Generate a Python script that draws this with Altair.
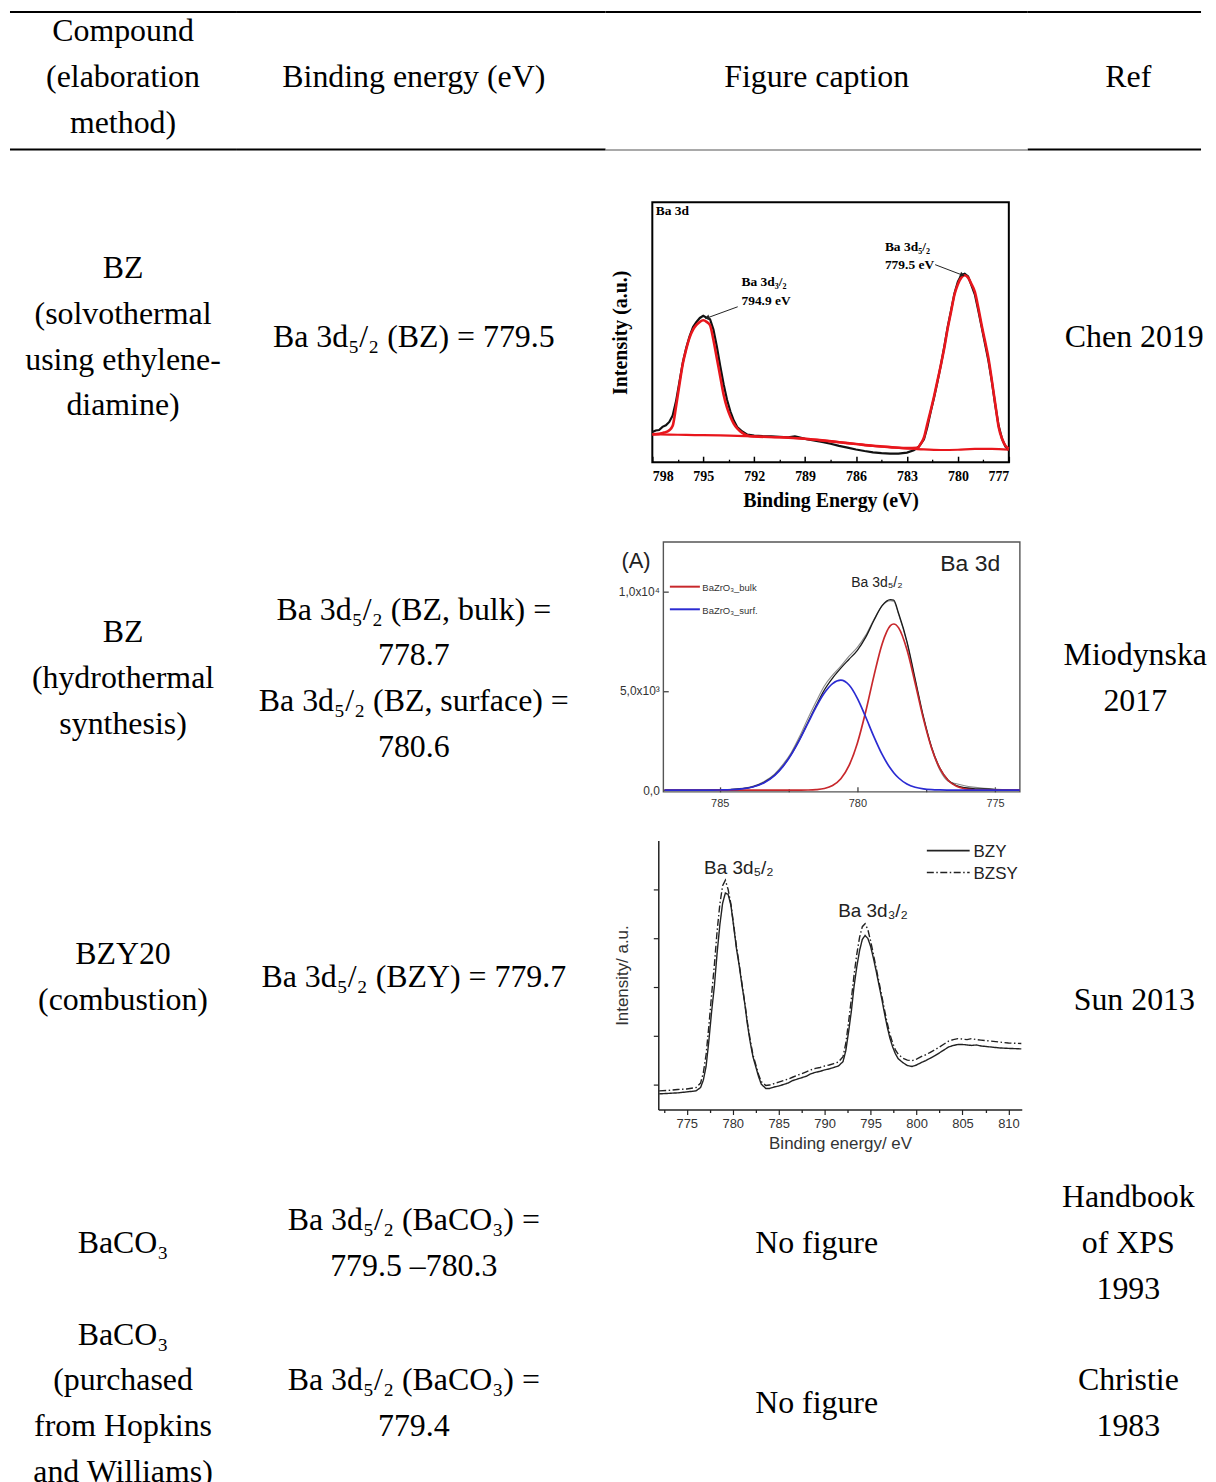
import altair as alt
import pandas as pd

SERIF = "Liberation Serif"
SANS = "Liberation Sans"
LINE_H = 46

# ---------------- table contents ----------------
header_cells = [["Compound", "(elaboration", "method)"], ["Binding energy (eV)"], ["Figure caption"], ["Ref"]]
compound_cells = [
    ["BZ", "(solvothermal", "using ethylene-", "diamine)"],
    ["BZ", "(hydrothermal", "synthesis)"],
    ["BZY20", "(combustion)"],
    ["BaCO₃"],
    ["BaCO₃", "(purchased", "from Hopkins", "and Williams)"],
]
energy_cells = [
    ["Ba 3d₅/₂ (BZ) = 779.5"],
    ["Ba 3d₅/₂ (BZ, bulk) =", "778.7", "Ba 3d₅/₂ (BZ, surface) =", "780.6"],
    ["Ba 3d₅/₂ (BZY) = 779.7"],
    ["Ba 3d₅/₂ (BaCO₃) =", "779.5 –780.3"],
    ["Ba 3d₅/₂ (BaCO₃) =", "779.4"],
]
caption_cells = [None, None, None, ["No figure"], ["No figure"]]
ref_cells = [["Chen 2019"], ["Miodynska", "2017"], ["Sun 2013"], ["Handbook", "of XPS", "1993"], ["Christie", "1983"]]

# ---------------- Chen 2019 panel ----------------
chen_xticks = [798, 795, 792, 789, 786, 783, 780, 777]
chen_xminor = [796.5, 793.5, 790.5, 787.5, 784.5, 781.5, 778.5]
chen_fit_energy = [798.0, 797.6, 797.3, 797.0, 796.8, 796.6, 796.4, 796.2, 796.0, 795.8,
                   795.6, 795.4, 795.2, 795.0, 794.8, 794.6, 794.4, 794.2, 794.0, 793.8,
                   793.6, 793.4, 793.2, 793.0, 792.7, 792.3, 792.0, 790.5, 789.0, 788.0,
                   787.0, 786.0, 785.0, 784.0, 783.0, 782.4, 782.2, 782.0, 781.8, 781.6,
                   781.4, 781.2, 781.0, 780.8, 780.6, 780.4, 780.2, 780.0, 779.8, 779.6,
                   779.4, 779.2, 779.0, 778.8, 778.6, 778.4, 778.2, 778.0, 777.8, 777.6,
                   777.4, 777.2, 777.0]
chen_fit_intensity = [10.7, 10.9, 11.4, 12.3, 14.0, 21.5, 30.0, 38.0, 43.5, 48.0,
                      51.0, 52.8, 54.0, 54.6, 54.0, 52.7, 47.0, 40.0, 33.0, 26.0,
                      21.0, 17.5, 14.8, 13.0, 11.3, 10.1, 9.9, 9.6, 9.0, 8.4,
                      7.7, 7.0, 6.3, 5.8, 5.4, 5.5, 7.0, 9.5, 14.8, 20.0,
                      25.5, 31.5, 37.5, 44.0, 51.5, 58.0, 64.5, 68.5, 71.0, 71.9,
                      71.0, 68.5, 65.5, 59.5, 52.7, 46.5, 40.0, 31.5, 22.5, 13.5,
                      9.0, 6.3, 5.2]
chen_bg_energy = [798, 797, 796, 795, 794, 793, 792, 791, 790, 789, 788,
                  787, 786, 785, 784, 783, 782, 781, 780, 779, 778, 777]
chen_bg_intensity = [10.7, 10.6, 10.5, 10.4, 10.3, 10.1, 9.9, 9.7, 9.5, 9.0, 8.4,
                     7.7, 7.0, 6.3, 5.8, 5.3, 4.9, 4.7, 4.8, 5.1, 5.1, 4.8]
chen_raw_energy = [798.0, 797.8, 797.6, 797.4, 797.2, 797.0, 796.8, 796.6, 796.4, 796.2,
                   796.0, 795.8, 795.6, 795.4, 795.2, 795.0, 794.8, 794.6, 794.4, 794.2,
                   794.0, 793.8, 793.6, 793.4, 793.2, 793.0, 792.7, 792.4, 792.0, 791.5,
                   791.0, 790.5, 790.0, 789.6, 789.3, 789.0, 788.5, 788.0, 787.5, 787.0,
                   786.5, 786.0, 785.5, 785.0, 784.5, 784.0, 783.5, 783.0, 782.6, 782.3,
                   782.0, 781.8, 781.6, 781.4, 781.2, 781.0, 780.8, 780.6, 780.4, 780.2,
                   780.0, 779.8, 779.6, 779.4, 779.2, 779.0, 778.8, 778.6, 778.4, 778.2,
                   778.0, 777.8, 777.6, 777.4, 777.2, 777.0]
chen_raw_intensity = [11.6, 12.2, 12.4, 13.6, 14.2, 15.5, 18.0, 23.5, 31.0, 38.5,
                      44.0, 48.5, 52.0, 54.0, 55.5, 56.3, 55.6, 55.0, 51.0, 44.5,
                      37.0, 30.0, 24.0, 19.5, 16.0, 13.5, 11.8, 10.6, 10.2, 10.0,
                      9.9, 9.8, 9.6, 9.9, 9.5, 9.0, 8.4, 7.8, 7.1, 6.3,
                      5.6, 4.9, 4.3, 3.8, 3.5, 3.3, 3.3, 3.7, 4.6, 6.0,
                      8.8, 13.5, 19.5, 25.0, 31.0, 37.5, 44.5, 52.0, 58.5, 65.0,
                      69.5, 72.0, 72.5, 71.5, 68.0, 64.5, 58.5, 52.0, 45.5, 39.0,
                      31.0, 22.0, 14.0, 9.0, 6.0, 4.6]
chen_note_text = ["Ba 3d", "Ba 3d₃/₂", "794.9 eV", "Ba 3d₅/₂", "779.5 eV"]
chen_note_energy = [797.8, 792.75, 792.75, 784.3, 784.3]
chen_note_intensity = [95.1, 67.7, 60.6, 81.1, 74.4]
chen_arrow_energy = [792.97, 781.34]
chen_arrow_intensity = [59.8, 76.0]
chen_arrow_energy2 = [794.73, 779.78]
chen_arrow_intensity2 = [55.6, 72.1]
chen_arrow_angle = [250, 110]

# ---------------- Miodynska 2017 panel ----------------
miod_series = ["BaZrO₃_bulk", "BaZrO₃_surf."]
miod_colors = ["#c8282c", "#2b2bd2"]
miod_xticks = [785, 780, 775]
miod_xminor = [782.5, 777.5]
miod_yticks = [0, 5000, 10000]
miod_ytick_labels = ["0,0", "5,0x10³", "1,0x10⁴"]
miod_energy = [787.0, 786.5, 786.0, 785.5, 785.0, 784.6, 784.2, 783.8, 783.4, 783.0,
               782.7, 782.4, 782.1, 781.8, 781.5, 781.2, 780.9, 780.6, 780.3, 780.0,
               779.7, 779.4, 779.1, 778.8, 778.68, 778.5, 778.2, 777.9, 777.6, 777.3,
               777.0, 776.7, 776.4, 776.1, 775.8, 775.4, 775.0, 774.6, 774.1]
miod_bulk = [0, 0, 0, 0, 0, 0, 0, 0, 0, 0,
             0, 0, 2, 7, 26, 83, 234, 577, 1248, 2365,
             3936, 5749, 7370, 8288, 8375, 8180, 7085, 5385, 3593, 2103,
             1081, 487, 193, 67, 20, 3, 0, 0, 0]
miod_surf = [0, 0, 0, 1, 7, 21, 62, 158, 364, 750,
             1199, 1800, 2538, 3363, 4185, 4893, 5373, 5544, 5300, 4630,
             3698, 2699, 1800, 1098, 878, 612, 311, 145, 62, 24,
             9, 3, 0, 0, 0, 0, 0, 0, 0]
miod_envelope = [0, 0, 0, 5, 15, 30, 75, 170, 380, 760,
                 1210, 1810, 2560, 3400, 4250, 5050, 5650, 6150, 6600, 7050,
                 7700, 8550, 9300, 9600, 9580, 8900, 7500, 5600, 3700, 2150,
                 1100, 500, 230, 120, 80, 60, 30, 10, 0]
miod_raw = [0, 0, 0, 0, 20, 40, 90, 190, 420, 820,
            1300, 1900, 2700, 3600, 4450, 5250, 5800, 6250, 6750, 7200,
            7800, 8600, 9300, 9550, 9520, 8850, 7450, 5550, 3650, 2100,
            1000, 450, 320, 220, 150, 90, 50, 20, 10]
miod_note_text = ["(A)", "Ba 3d", "Ba 3d₅/₂"]
miod_note_energy = [788.04, 775.9, 779.29]
miod_note_intensity = [11210, 11060, 10256]
miod_key_energy = [786.81, 786.81]
miod_key_energy2 = [785.72, 785.72]
miod_key_intensity = [10256, 9116]
miod_key_text_energy = [785.63, 785.63]
miod_key_text_intensity = [10020, 8880]

# ---------------- Sun 2013 panel ----------------
sun_series = ["BZY", "BZSY"]
sun_xticks = [775, 780, 785, 790, 795, 800, 805, 810]
sun_xminor = [772.5, 777.5, 782.5, 787.5, 792.5, 797.5, 802.5, 807.5]
sun_yticks = [1, 2, 3, 4, 5]
sun_energy = [772.0, 773.0, 774.0, 775.0, 776.0, 776.5, 776.8, 777.1, 777.4, 777.7,
              778.0, 778.3, 778.6, 778.9, 779.2, 779.5, 779.8, 780.1, 780.4, 780.7,
              781.0, 781.3, 781.6, 781.9, 782.2, 782.5, 782.8, 783.1, 783.6, 784.0,
              784.5, 785.0, 785.5, 786.0, 786.5, 787.0, 787.5, 788.0, 788.5, 789.0,
              789.5, 790.0, 790.5, 791.0, 791.5, 792.0, 792.3, 792.6, 792.9, 793.2,
              793.5, 793.8, 794.1, 794.4, 794.7, 795.0, 795.3, 795.6, 795.9, 796.2,
              796.5, 796.8, 797.1, 797.4, 797.7, 798.0, 798.5, 799.0, 799.5, 800.0,
              800.5, 801.0, 801.5, 802.0, 802.5, 803.0, 803.5, 804.0, 804.5, 805.0,
              805.5, 806.0, 806.5, 807.0, 808.0, 809.0, 810.0, 811.4]
sun_bzy = [0.82, 0.83, 0.84, 0.86, 0.88, 0.95, 1.10, 1.38, 1.90, 2.50,
           3.02, 3.70, 4.28, 4.72, 4.93, 4.90, 4.68, 4.25, 3.80, 3.45,
           3.05, 2.68, 2.24, 1.88, 1.58, 1.38, 1.18, 1.02, 0.93, 0.93,
           0.96, 0.98, 1.01, 1.04, 1.09, 1.12, 1.15, 1.18, 1.23, 1.26,
           1.28, 1.31, 1.33, 1.36, 1.39, 1.48, 1.70, 2.08, 2.50, 3.02,
           3.42, 3.75, 3.98, 4.06, 4.00, 3.84, 3.60, 3.34, 3.06, 2.78,
           2.48, 2.20, 1.96, 1.78, 1.64, 1.54, 1.46, 1.40, 1.38, 1.41,
           1.46, 1.50, 1.55, 1.60, 1.66, 1.72, 1.78, 1.81, 1.83, 1.83,
           1.82, 1.81, 1.82, 1.80, 1.78, 1.76, 1.75, 1.74]
sun_bzsy = [0.88, 0.89, 0.91, 0.92, 0.95, 1.04, 1.25, 1.62, 2.20, 2.85,
            3.45, 4.15, 4.70, 5.08, 5.19, 5.00, 4.70, 4.28, 3.84, 3.48,
            3.08, 2.70, 2.28, 1.92, 1.62, 1.42, 1.22, 1.07, 0.99, 1.00,
            1.03, 1.06, 1.09, 1.12, 1.16, 1.20, 1.23, 1.27, 1.31, 1.34,
            1.36, 1.39, 1.41, 1.44, 1.47, 1.58, 1.85, 2.28, 2.75, 3.25,
            3.68, 4.02, 4.24, 4.30, 4.18, 3.95, 3.68, 3.40, 3.12, 2.84,
            2.55, 2.28, 2.04, 1.86, 1.72, 1.63, 1.55, 1.51, 1.50, 1.53,
            1.58, 1.62, 1.67, 1.72, 1.78, 1.84, 1.90, 1.93, 1.95, 1.94,
            1.93, 1.95, 1.93, 1.92, 1.90, 1.88, 1.86, 1.85]
sun_note_text = ["Ba 3d₅/₂", "Ba 3d₃/₂"]
sun_note_energy = [780.67, 795.27]
sun_note_intensity = [5.31, 4.43]
sun_key_energy = [801.12, 801.12]
sun_key_energy2 = [805.78, 805.78]
sun_key_intensity = [5.796, 5.348]
sun_key_text_energy = [806.2, 806.2]
sun_key_text_intensity = [5.67, 5.22]

# ---------------- layout ----------------
COL1_W, COL2_W, COL3_W, COL4_W = 227, 371, 424, 174
COL1_CX, COL2_CX, COL3_CX, COL4_CX = 113.5, 178.5, 212, 101
HEADER_H = 140
ROW_H = [382, 298, 347, 140, 167]
TEXT_CY = [187, 148, 150, 70, 91]
REF_CY = [187, 148, 173, 70, 91]
FIG_COL2_W = [375, 383, 379]
FIG_TOP_GAP = [51, 10, 13]
FIG_LEFT_EXTENT = [37, 39, 39]   # axis space left of each plot (the spacer aligns with the plot)

DUMMY = alt.Data(values=[{"row": 0}])


def text_cell(lines, width, height, cx, cy, rules=()):
    layers = [alt.Chart(DUMMY).mark_rect(opacity=0).encode(
        x=alt.value(0), x2=alt.value(width), y=alt.value(0), y2=alt.value(height))]
    if lines:
        first = cy - (len(lines) - 1) * LINE_H / 2
        layers.append(alt.Chart(DUMMY).mark_text(
            font=SERIF, fontSize=32, lineHeight=LINE_H, align="center", baseline="middle", color="black"
        ).encode(x=alt.value(cx), y=alt.value(first), text=alt.value(lines)))
    for y0, y1, rc in rules:
        layers.append(alt.Chart(DUMMY).mark_rect(color=rc).encode(
            x=alt.value(0), x2=alt.value(width), y=alt.value(y0), y2=alt.value(y1)))
    return alt.layer(*layers).properties(width=width, height=height)


def minor_x_ticks(df, xs, y_enc, values, size, offset, color):
    ax = alt.Axis(orient="bottom", values=values, offset=offset, tickSize=size, tickWidth=1.3,
                  tickColor=color, labels=False, domain=False, grid=False, title=None)
    return alt.Chart(df).mark_point(opacity=0, size=1).encode(
        x=alt.X("energy:Q", scale=xs, axis=ax), y=y_enc)


def chen_figure():
    red = "#e8161c"
    xs = alt.Scale(domain=[777, 798], reverse=True, nice=False, zero=False)
    ys = alt.Scale(domain=[0, 100], nice=False, zero=False)
    fit_df = pd.DataFrame({"energy": chen_fit_energy, "intensity": chen_fit_intensity})
    bg_df = pd.DataFrame({"energy": chen_bg_energy, "intensity": chen_bg_intensity})
    raw_df = pd.DataFrame({"energy": chen_raw_energy, "intensity": chen_raw_intensity})
    note_df = pd.DataFrame({"energy": chen_note_energy, "intensity": chen_note_intensity, "label": chen_note_text})
    arrow_df = pd.DataFrame({"energy": chen_arrow_energy, "intensity": chen_arrow_intensity,
                             "energy2": chen_arrow_energy2, "intensity2": chen_arrow_intensity2})
    head_df = pd.DataFrame({"energy": chen_arrow_energy2, "intensity": chen_arrow_intensity2, "angle": chen_arrow_angle})

    x_axis = alt.Axis(orient="bottom", values=chen_xticks, format="d", offset=-6, tickSize=6, tickWidth=1.5,
                      tickColor="black", domain=False, grid=False,
                      labelFont=SERIF, labelFontWeight="bold", labelFontSize=14, labelColor="black", labelPadding=7,
                      title="Binding Energy (eV)", titleFont=SERIF, titleFontWeight="bold", titleFontSize=20,
                      titleColor="black", titlePadding=7)
    y_axis = alt.Axis(orient="left", labels=False, ticks=False, domain=False, grid=False,
                      title="Intensity (a.u.)", titleFont=SERIF, titleFontWeight="bold", titleFontSize=20,
                      titleColor="black", titlePadding=22)

    def X(axis=None):
        return alt.X("energy:Q", scale=xs, axis=axis)

    Y = alt.Y("intensity:Q", scale=ys, axis=y_axis)

    raw = alt.Chart(raw_df).mark_line(color="#111111", strokeWidth=2.2).encode(x=X(x_axis), y=Y)
    bg = alt.Chart(bg_df).mark_line(color=red, strokeWidth=2.2, interpolate="monotone").encode(x=X(), y=Y)
    fit = alt.Chart(fit_df).mark_line(color=red, strokeWidth=2.6, interpolate="monotone").encode(x=X(), y=Y)
    notes = alt.Chart(note_df).mark_text(font=SERIF, fontWeight="bold", fontSize=13.5, align="left",
                                         baseline="alphabetic", color="black").encode(x=X(), y=Y, text="label:N")
    arrows = alt.Chart(arrow_df).mark_rule(color="#222222", strokeWidth=1).encode(
        x=X(), y=Y, x2="energy2:Q", y2="intensity2:Q")
    heads = alt.Chart(head_df).mark_point(shape="triangle", filled=True, size=30, color="#222222", opacity=1).encode(
        x=X(), y=Y, angle=alt.Angle("angle:Q", scale=None))
    minor = minor_x_ticks(fit_df, xs, Y, chen_xminor, 3, -3, "black")
    return alt.layer(raw, bg, fit, notes, arrows, heads, minor).resolve_axis(
        x="independent").properties(width=358, height=261,
                                    view=alt.ViewBackground(stroke="black", strokeWidth=2))


def miod_figure():
    xs = alt.Scale(domain=[774.1, 787.05], reverse=True, nice=False, zero=False)
    ys = alt.Scale(domain=[-85, 12515], nice=False, zero=False)
    n = len(miod_energy)
    env_df = pd.DataFrame({"energy": miod_energy, "intensity": miod_envelope})
    raw_df = pd.DataFrame({"energy": miod_energy, "intensity": miod_raw})
    comp_df = pd.DataFrame({"energy": miod_energy + miod_energy, "intensity": miod_bulk + miod_surf,
                            "component": [miod_series[0]] * n + [miod_series[1]] * n})
    key_df = pd.DataFrame({"energy": miod_key_energy, "energy2": miod_key_energy2,
                           "intensity": miod_key_intensity, "component": miod_series})
    key_text_df = pd.DataFrame({"energy": miod_key_text_energy, "intensity": miod_key_text_intensity,
                                "component": miod_series})
    expr = "''"
    for v, lab in reversed(list(zip(miod_yticks, miod_ytick_labels))):
        expr = f"datum.value == {v} ? '{lab}' : {expr}"

    x_axis = alt.Axis(orient="bottom", values=miod_xticks, format="d", offset=-5, tickSize=5, tickWidth=1.3,
                      tickColor="#444444", domain=False, grid=False,
                      labelFont=SANS, labelFontSize=11, labelColor="#333333", labelPadding=6, title=None)
    y_axis = alt.Axis(orient="left", values=miod_yticks, labelExpr=expr, offset=-5, tickSize=5, tickWidth=1.3,
                      tickColor="#444444", domain=False, grid=False,
                      labelFont=SANS, labelFontSize=12, labelColor="#333333", labelPadding=4, title=None)

    def X(axis=None):
        return alt.X("energy:Q", scale=xs, axis=axis)

    Y = alt.Y("intensity:Q", scale=ys, axis=y_axis)

    color = alt.Color("component:N", scale=alt.Scale(domain=miod_series, range=miod_colors), legend=None)
    raw = alt.Chart(raw_df).mark_line(color="#8a8a8a", strokeWidth=1.1, interpolate="monotone").encode(
        x=X(x_axis), y=Y)
    env = alt.Chart(env_df).mark_line(color="#1a1a1a", strokeWidth=1.3, interpolate="monotone").encode(x=X(), y=Y)
    comp = alt.Chart(comp_df).mark_line(strokeWidth=1.7, interpolate="monotone").encode(x=X(), y=Y, color=color)
    key = alt.Chart(key_df).mark_rule(strokeWidth=2).encode(x=X(), x2="energy2:Q", y=Y, color=color)
    key_text = alt.Chart(key_text_df).mark_text(font=SANS, fontSize=9.5, align="left", baseline="alphabetic",
                                                color="#333333").encode(x=X(), y=Y, text="component:N")
    note_sizes = [22, 23, 14]
    notes = []
    for i, txt in enumerate(miod_note_text):
        ndf = pd.DataFrame({"energy": [miod_note_energy[i]], "intensity": [miod_note_intensity[i]], "label": [txt]})
        notes.append(alt.Chart(ndf).mark_text(font=SANS, fontSize=note_sizes[i], align="center",
                                              baseline="alphabetic", color="#222222").encode(
            x=X(), y=Y, text="label:N"))
    minor = minor_x_ticks(env_df, xs, Y, miod_xminor, 3, -3, "#444444")
    return alt.layer(raw, env, comp, key, key_text, *notes, minor).resolve_axis(x="independent").properties(
        width=358, height=251, view=alt.ViewBackground(stroke="#555555", strokeWidth=1.4))


def sun_figure():
    xs = alt.Scale(domain=[771.9, 811.45], nice=False, zero=False)
    ys = alt.Scale(domain=[0.5, 6], nice=False, zero=False)
    n = len(sun_energy)
    df = pd.DataFrame({"energy": sun_energy + sun_energy, "intensity": sun_bzy + sun_bzsy,
                       "sample": [sun_series[0]] * n + [sun_series[1]] * n})
    key_df = pd.DataFrame({"energy": sun_key_energy, "energy2": sun_key_energy2,
                           "intensity": sun_key_intensity, "sample": sun_series})
    key_text_df = pd.DataFrame({"energy": sun_key_text_energy, "intensity": sun_key_text_intensity,
                                "sample": sun_series})
    x_axis = alt.Axis(orient="bottom", values=sun_xticks, format="d", tickSize=5, tickColor="#222222", tickWidth=1.2,
                      domainColor="#222222", domainWidth=1.5, grid=False, labelFont=SANS, labelFontSize=13,
                      labelColor="#333333", labelPadding=3, title="Binding energy/ eV", titleFont=SANS,
                      titleFontSize=17, titleFontWeight="normal", titleColor="#333333", titlePadding=5)
    y_axis = alt.Axis(orient="left", values=sun_yticks, tickSize=5, tickColor="#222222", tickWidth=1.2,
                      domainColor="#222222", domainWidth=1.5, grid=False, labels=False,
                      title="Intensity/ a.u.", titleFont=SANS, titleFontSize=17, titleFontWeight="normal",
                      titleColor="#333333", titlePadding=21)

    def X(axis=None):
        return alt.X("energy:Q", scale=xs, axis=axis)

    Y = alt.Y("intensity:Q", scale=ys, axis=y_axis)

    dash = alt.StrokeDash("sample:N", scale=alt.Scale(domain=sun_series, range=[[1, 0], [7, 2.5, 1.5, 2.5]]),
                          legend=None)
    lines = alt.Chart(df).mark_line(color="#222222", strokeWidth=1.4).encode(
        x=X(x_axis), y=Y, strokeDash=dash)
    key = alt.Chart(key_df).mark_rule(color="#222222", strokeWidth=1.6).encode(
        x=X(), x2="energy2:Q", y=Y, strokeDash=dash)
    key_text = alt.Chart(key_text_df).mark_text(font=SANS, fontSize=17, align="left", baseline="alphabetic",
                                                color="#222222").encode(x=X(), y=Y, text="sample:N")
    note_df = pd.DataFrame({"energy": sun_note_energy, "intensity": sun_note_intensity, "label": sun_note_text})
    notes = alt.Chart(note_df).mark_text(font=SANS, fontSize=19, align="center", baseline="alphabetic",
                                         color="#222222").encode(x=X(), y=Y, text="label:N")
    minor = minor_x_ticks(df, xs, Y, sun_xminor, 3, 0, "#222222")
    return alt.layer(lines, key, key_text, notes, minor).resolve_axis(x="independent").properties(
        width=365, height=270)


figures = [chen_figure(), miod_figure(), sun_figure()]

thick_rules = [(0, 2, "black"), (138, 140, "black")]
rows = []
rows.append(alt.hconcat(
    text_cell(header_cells[0], COL1_W, HEADER_H, COL1_CX, 66, rules=thick_rules),
    text_cell(header_cells[1], COL2_W, HEADER_H, COL2_CX, 66, rules=thick_rules),
    text_cell(header_cells[2], COL3_W, HEADER_H, COL3_CX, 66, rules=[(0, 2, "black"), (139, 140, "#555555")]),
    text_cell(header_cells[3], COL4_W, HEADER_H, COL4_CX, 66, rules=thick_rules),
    spacing=0))

for i in range(5):
    h = ROW_H[i]
    if i < 3:
        w2 = FIG_COL2_W[i]
        w3 = COL2_W + COL3_W - w2
        spacer = text_cell(None, w3 - FIG_LEFT_EXTENT[i], FIG_TOP_GAP[i], 0, 0)
        third = alt.vconcat(spacer, figures[i], spacing=0)
    else:
        w2 = COL2_W
        third = text_cell(caption_cells[i], COL3_W, h, COL3_CX, TEXT_CY[i])
    rows.append(alt.hconcat(
        text_cell(compound_cells[i], COL1_W, h, COL1_CX, TEXT_CY[i]),
        text_cell(energy_cells[i], w2, h, COL2_CX, TEXT_CY[i]),
        third,
        text_cell(ref_cells[i], COL4_W, h, COL4_CX, REF_CY[i]),
        spacing=0))

chart = alt.vconcat(*rows, spacing=0).properties(
    padding={"left": 2, "top": 0, "right": 0, "bottom": 0}, background="white"
).configure_view(stroke=None).configure_concat(spacing=0)

chart.save("out.html", embed_options={"renderer": "svg", "actions": False})
